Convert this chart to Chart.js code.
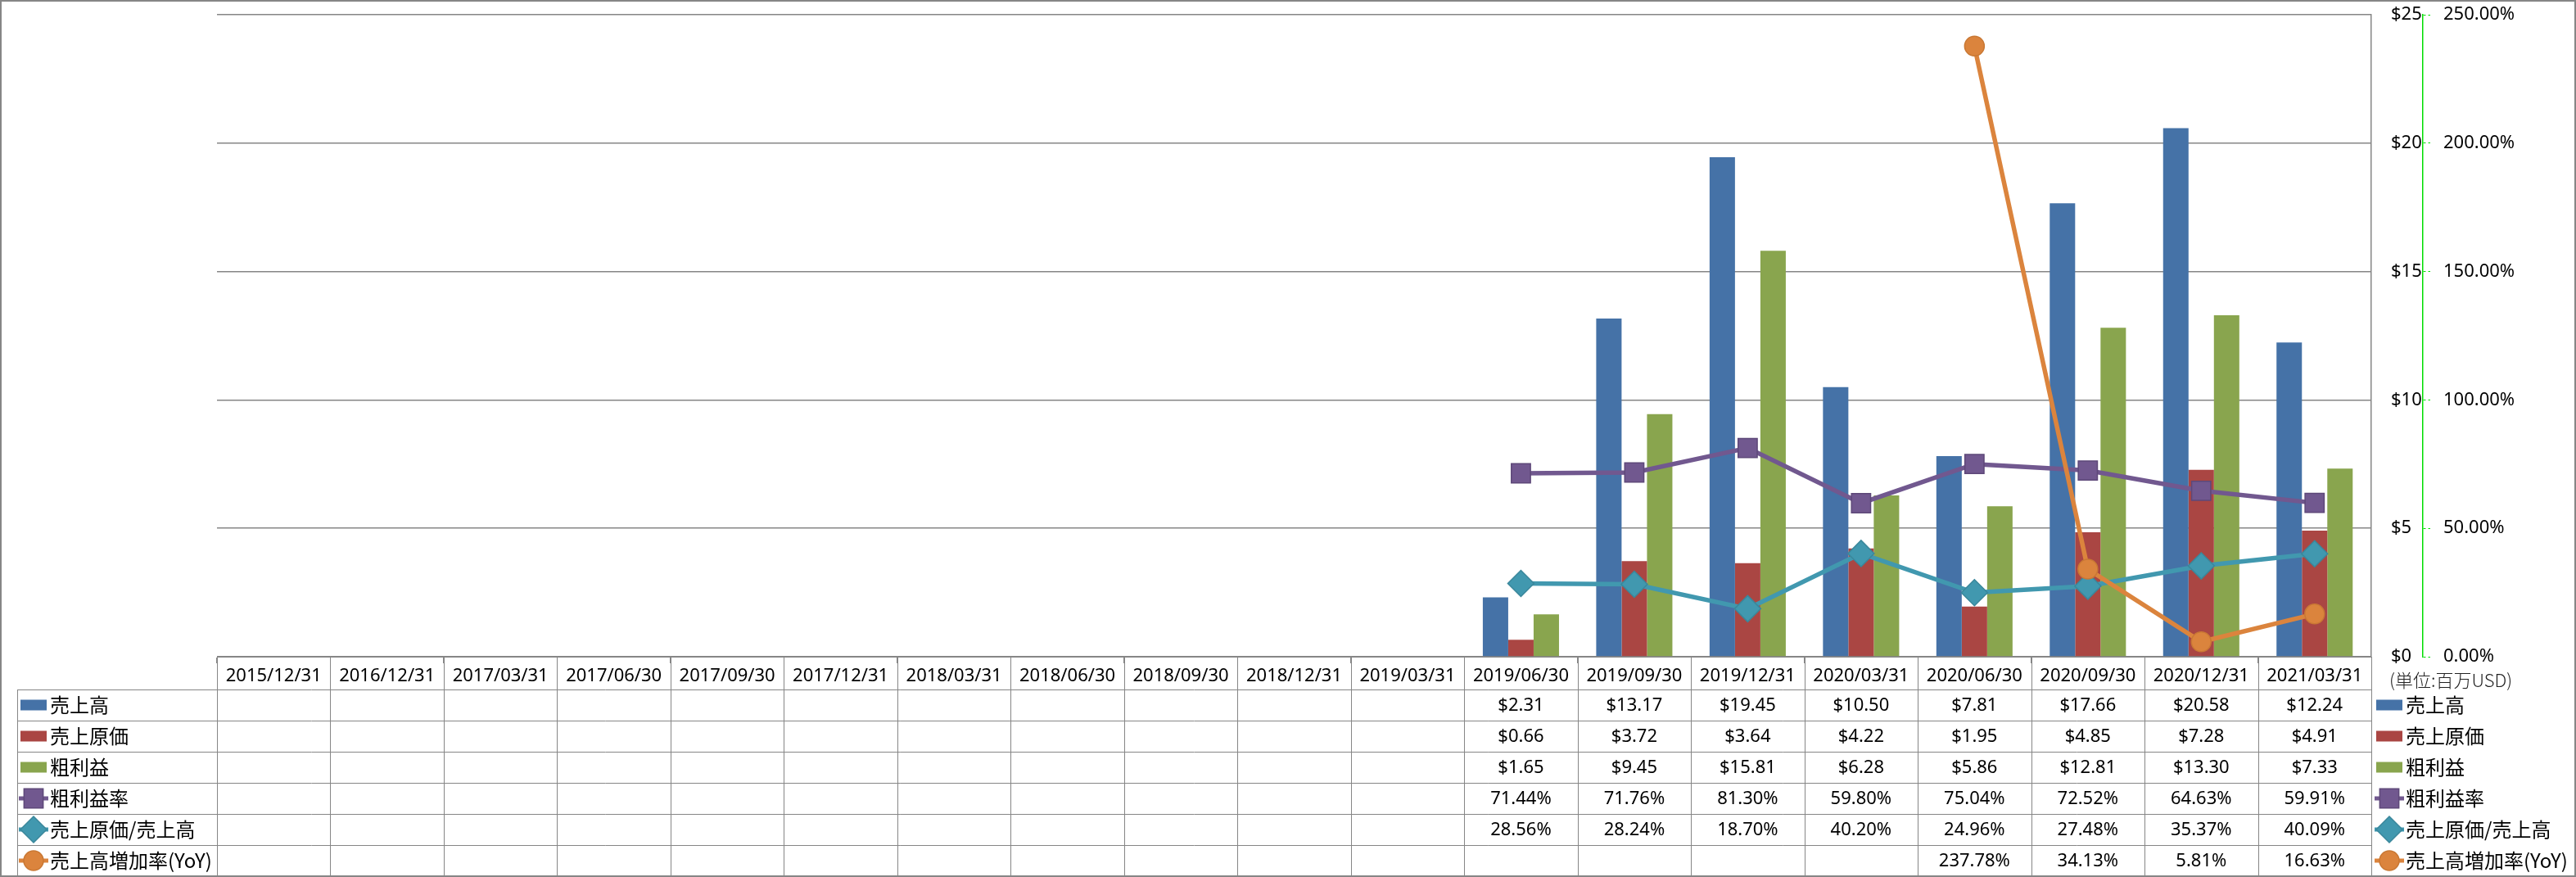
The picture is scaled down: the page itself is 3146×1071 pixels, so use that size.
<!DOCTYPE html>
<html>
<head>
<meta charset="utf-8">
<script src="https://cdn.jsdelivr.net/npm/chart.js@4.4.0/dist/chart.umd.min.js"></script>
<style>
html, body { margin: 0; padding: 0; background: #fff; }
#wrap { width: 3146px; height: 1071px; }
</style>
</head>
<body>
<div id="wrap"><canvas id="chart" width="3146" height="1071"></canvas></div>
<script>
const categories = ["2015/12/31", "2016/12/31", "2017/03/31", "2017/06/30", "2017/09/30", "2017/12/31",
    "2018/03/31", "2018/06/30", "2018/09/30", "2018/12/31", "2019/03/31", "2019/06/30", "2019/09/30",
    "2019/12/31", "2020/03/31", "2020/06/30", "2020/09/30", "2020/12/31", "2021/03/31"];
const E = null;
const sales = [E, E, E, E, E, E, E, E, E, E, E, 2.31, 13.17, 19.45, 10.50, 7.81, 17.66, 20.58, 12.24];
const costOfSales = [E, E, E, E, E, E, E, E, E, E, E, 0.66, 3.72, 3.64, 4.22, 1.95, 4.85, 7.28, 4.91];
const grossProfit = [E, E, E, E, E, E, E, E, E, E, E, 1.65, 9.45, 15.81, 6.28, 5.86, 12.81, 13.30, 7.33];
const grossMargin = [E, E, E, E, E, E, E, E, E, E, E, 71.44, 71.76, 81.30, 59.80, 75.04, 72.52, 64.63, 59.91];
const costRatio = [E, E, E, E, E, E, E, E, E, E, E, 28.56, 28.24, 18.70, 40.20, 24.96, 27.48, 35.37, 40.09];
const salesYoY = [E, E, E, E, E, E, E, E, E, E, E, E, E, E, E, 237.78, 34.13, 5.81, 16.63];
const seriesNames = ["売上高", "売上原価", "粗利益", "粗利益率", "売上原価/売上高", "売上高増加率(YoY)"];
const dollarTicks = [0, 5, 10, 15, 20, 25];
const percentTicks = [0, 50, 100, 150, 200, 250];
const unitNote = "(単位:百万USD)";

const FONT = '"Noto Sans", "Noto Sans CJK JP", sans-serif';
const JP_FONT = '"Noto Sans CJK JP", "Noto Sans", sans-serif';
const GRID = "#868686";
const AXIS_GREEN = "#00dd00";

const money = v => v == null ? "" : "$" + v.toFixed(2);
const pct = v => v == null ? "" : v.toFixed(2) + "%";

const series = [
    { name: seriesNames[0], data: sales, kind: "bar", color: "#4572A7", fmt: money },
    { name: seriesNames[1], data: costOfSales, kind: "bar", color: "#AA4643", fmt: money },
    { name: seriesNames[2], data: grossProfit, kind: "bar", color: "#89A54E", fmt: money },
    { name: seriesNames[3], data: grossMargin, kind: "line", color: "#71588F", edge: "#5e4879", point: "rect", radius: 16.5, order: 3, fmt: pct },
    { name: seriesNames[4], data: costRatio, kind: "line", color: "#4198AF", edge: "#3a879b", point: "rectRot", radius: 16, order: 2, fmt: pct },
    { name: seriesNames[5], data: salesYoY, kind: "line", color: "#DB843D", edge: "#c97834", point: "circle", radius: 12, order: 1, fmt: pct }
];

function toDataset(s) {
    if (s.kind === "bar") {
        return { type: "bar", label: s.name, data: s.data, backgroundColor: s.color, yAxisID: "y", order: 5,
            barPercentage: 1, categoryPercentage: 0.672 };
    }
    return { type: "line", label: s.name, data: s.data, yAxisID: "y1", order: s.order,
        borderColor: s.color, borderWidth: 5.5, backgroundColor: s.color, tension: 0,
        pointStyle: s.point, pointRadius: s.radius, pointHoverRadius: s.radius,
        pointBackgroundColor: s.color, pointBorderColor: s.edge, pointBorderWidth: 1.5 };
}

function drawKey(ctx, s, cx, cy) {
    ctx.save();
    if (s.kind === "bar") {
        ctx.fillStyle = s.color;
        ctx.fillRect(cx - 16, cy - 6.5, 32, 13);
    } else {
        ctx.strokeStyle = s.color;
        ctx.lineWidth = 5;
        ctx.beginPath();
        ctx.moveTo(cx - 18, cy);
        ctx.lineTo(cx + 18, cy);
        ctx.stroke();
        ctx.fillStyle = s.color;
        ctx.strokeStyle = s.edge;
        ctx.lineWidth = 1.5;
        Chart.helpers.drawPoint(ctx, { pointStyle: s.point, rotation: 0, radius: s.radius, borderWidth: 1.5 }, cx, cy);
    }
    ctx.restore();
}

const HEAD_H = 40;
const ROW_H = 38;

function noPad(s) {
    s.paddingTop = 0;
    s.paddingBottom = 0;
    s.paddingLeft = 0;
    s.paddingRight = 0;
}

const dataTable = {
    id: "dataTable",
    afterDraw(chart) {
        const { ctx, chartArea, scales } = chart;
        const xs = scales.x;
        const colW = xs.width / categories.length;
        const top = chartArea.bottom;
        const rowTop = top + HEAD_H;
        const bottom = rowTop + ROW_H * series.length;
        const labelLeft = 21;

        ctx.save();
        ctx.strokeStyle = GRID;
        ctx.lineWidth = 1;
        ctx.beginPath();
        for (let r = 0; r <= series.length; r++) {
            const y = Math.round(rowTop + r * ROW_H) + 0.5;
            ctx.moveTo(labelLeft, y);
            ctx.lineTo(xs.right, y);
        }
        for (let i = 0; i <= categories.length; i++) {
            const x = Math.round(xs.getPixelForValue(0) - colW / 2 + i * colW) + 0.5;
            ctx.moveTo(x, top);
            ctx.lineTo(x, bottom);
        }
        ctx.moveTo(labelLeft + 0.5, rowTop);
        ctx.lineTo(labelLeft + 0.5, bottom);
        ctx.stroke();

        // cell values
        ctx.fillStyle = "#000";
        ctx.font = "22px " + FONT;
        ctx.textAlign = "center";
        ctx.textBaseline = "middle";
        series.forEach((s, r) => {
            const cy = rowTop + r * ROW_H + ROW_H / 2 + 1;
            s.data.forEach((v, i) => {
                if (v == null) return;
                ctx.fillText(s.fmt(v), xs.getPixelForValue(i), cy);
            });
        });

        // row keys in the table and the legend on the right
        const legendX = scales.y.left + 22;
        series.forEach((s, r) => {
            const cy = rowTop + r * ROW_H + ROW_H / 2;
            drawKey(ctx, s, 41, cy);
            drawKey(ctx, s, legendX, cy);
            ctx.fillStyle = "#000";
            ctx.font = "24px " + JP_FONT;
            ctx.textAlign = "left";
            ctx.textBaseline = "middle";
            ctx.fillText(s.name, 61, cy);
            ctx.fillText(s.name, legendX + 20, cy);
        });

        ctx.font = "300 22px " + JP_FONT;
        ctx.fillStyle = "#222";
        ctx.fillText(unitNote, scales.y.left + 22, top + 29);

        // outer frame
        ctx.strokeStyle = GRID;
        ctx.lineWidth = 2;
        ctx.strokeRect(1, 1, chart.width - 2, chart.height - 2);
        ctx.restore();
    }
};

new Chart(document.getElementById("chart"), {
    data: { labels: categories, datasets: series.map(toDataset) },
    options: {
        responsive: false,
        animation: false,
        devicePixelRatio: 1,
        layout: { padding: { left: 265, top: 15, right: 0, bottom: 1071 - 802 - HEAD_H } },
        plugins: { legend: { display: false }, tooltip: { enabled: false } },
        scales: {
            x: {
                position: "bottom",
                grid: { drawOnChartArea: false, offset: true, drawTicks: true, tickLength: 8, color: GRID },
                border: { display: true, color: GRID, width: 1 },
                ticks: { font: { family: FONT, size: 22 }, color: "#000", padding: 3, maxRotation: 0, autoSkip: false },
                afterFit(s) { s.height = HEAD_H; noPad(s); }
            },
            y: {
                position: "right",
                min: 0, max: 25,
                afterBuildTicks(s) { s.ticks = dollarTicks.map(v => ({ value: v })); },
                grid: { color: GRID, lineWidth: 1.5, drawTicks: false },
                border: { display: true, color: GRID, width: 1.5 },
                ticks: { font: { family: FONT, size: 22 }, color: "#000", padding: 24, callback: v => "$" + v },
                afterFit(s) { s.width = 63; noPad(s); }
            },
            y1: {
                position: "right",
                min: 0, max: 250,
                afterBuildTicks(s) { s.ticks = percentTicks.map(v => ({ value: v })); },
                grid: { drawOnChartArea: false, drawTicks: true, tickLength: 9, color: AXIS_GREEN, tickBorderDash: [3, 3] },
                border: { display: true, color: AXIS_GREEN, width: 1.5, dash: [5, 3] },
                ticks: { font: { family: FONT, size: 22 }, color: "#000", padding: 16, callback: v => v.toFixed(2) + "%" },
                afterFit(s) { s.width = 187; noPad(s); }
            }
        }
    },
    plugins: [dataTable]
});
</script>
</body>
</html>
